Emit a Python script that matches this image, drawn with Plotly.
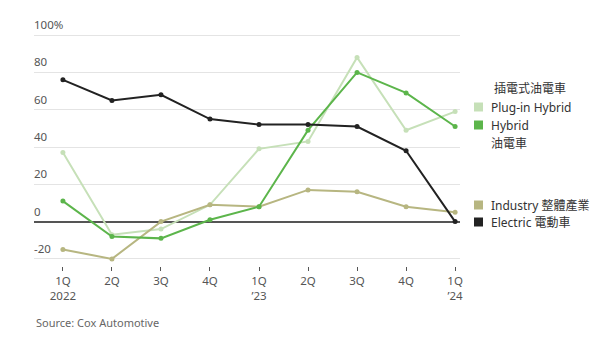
import plotly.graph_objects as go

quarters = ["1Q<br>2022", "2Q", "3Q", "4Q", "1Q<br>’23", "2Q", "3Q", "4Q", "1Q<br>’24"]
electric = [76, 65, 68, 55, 52, 52, 51, 38, 0]
hybrid = [11, -8, -9, 1, 8, 49, 80, 69, 51]
plugin = [37, -7, -4, 9, 39, 43, 88, 49, 59]
industry = [-15, -20, 0, 9, 8, 17, 16, 8, 5]
ytick_vals = [-20, 0, 20, 40, 60, 80, 100]
ytick_text = ["-20", "0", "20", "40", "60", "80", "100%"]

C_EL = "#222222"
C_HY = "#5cb54b"
C_PL = "#c6e0b8"
C_IN = "#b7b681"

FONT = "Noto Sans, Noto Sans CJK TC, sans-serif"
x = list(range(len(quarters)))

fig = go.Figure()
for name, vals, col in [("Plug-in Hybrid", plugin, C_PL), ("Industry", industry, C_IN),
                        ("Hybrid", hybrid, C_HY), ("Electric", electric, C_EL)]:
    fig.add_trace(go.Scatter(x=x, y=vals, mode="lines+markers", name=name,
                             line=dict(color=col, width=2),
                             marker=dict(color=col, size=5), showlegend=False,
                             cliponaxis=False))

L, R, T, B = 34, 140, 34, 79
W, H = 600, 345
pw = W - L - R
ph = H - T - B

def px(xp):
    return (xp - L) / pw

def py(yp):
    return (H - B - yp) / ph

fig.update_layout(
    width=W, height=H,
    margin=dict(l=L, r=R, t=T, b=B),
    plot_bgcolor="white", paper_bgcolor="white",
    font=dict(family=FONT, size=11, color="#555"),
    xaxis=dict(range=[-0.59, 8.1], tickvals=x, ticktext=quarters,
               showgrid=False, zeroline=False, showline=False,
               ticks="outside", ticklen=4, tickcolor="#555", tickwidth=1,
               anchor="free", position=0, tickfont=dict(size=11.5, color="#555")),
    yaxis=dict(range=[-20.6, 100.6], domain=[(266 - 260) / ph, 1],
               tickvals=ytick_vals, showticklabels=False,
               gridcolor="#e4e4e4", gridwidth=1,
               zeroline=True, zerolinecolor="#555", zerolinewidth=1.5,
               showline=False),
)

for v, t in zip(ytick_vals, ytick_text):
    fig.add_annotation(x=0, y=v, xref="paper", yref="y", text=t, showarrow=False,
                       xanchor="left", yanchor="bottom", yshift=1, xshift=-2,
                       font=dict(size=11.5, color="#555", family=FONT))

legend_items = [
    (None, "插電式油電車", 89, 492),
    (C_PL, "Plug-in Hybrid", 107, 489),
    (C_HY, "Hybrid", 125, 489),
    (None, "油電車", 143, 489),
    (C_IN, "Industry 整體產業", 205, 489),
    (C_EL, "Electric 電動車", 222, 489),
]
for col, text, ypix, xpix in legend_items:
    fig.add_annotation(x=px(xpix), y=py(ypix), xref="paper", yref="paper",
                       text=text, showarrow=False, xanchor="left", yanchor="middle",
                       font=dict(size=12, color="#333", family=FONT))
    if col:
        fig.add_shape(type="rect", xref="paper", yref="paper",
                      x0=px(474), x1=px(483), y0=py(ypix + 4.5), y1=py(ypix - 4.5),
                      fillcolor=col, line=dict(width=0))

fig.add_annotation(x=px(34), y=py(322), xref="paper", yref="paper",
                   text="Source: Cox Automotive", showarrow=False,
                   xanchor="left", yanchor="middle",
                   font=dict(size=11, color="#666", family=FONT))

fig.write_html("out.html")
